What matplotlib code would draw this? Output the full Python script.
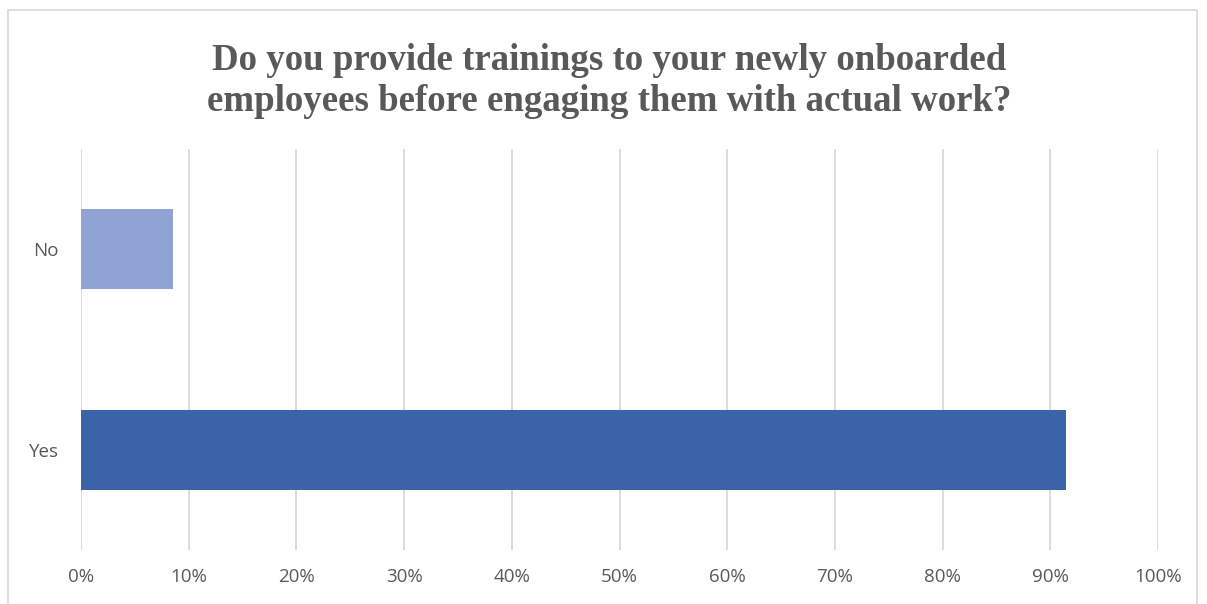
import matplotlib.pyplot as plt
from matplotlib.patches import Rectangle
from matplotlib.ticker import PercentFormatter

# survey answers, share of respondents
answers = ["Yes", "No"]
shares = [91.5, 8.5]
colors = ["#3a63aa", "#8fa4d4"]

fig = plt.figure(figsize=(12.07, 6.04), dpi=100)
ax = fig.add_axes([81 / 1207, 1 - 550 / 604, (1158 - 81) / 1207, (550 - 149) / 604])

ax.barh(answers, shares, height=0.4, color=colors, zorder=3)
ax.set_xlim(0, 100)
ax.set_ylim(-0.5, 1.5)
ax.set_xticks(range(0, 101, 10))
ax.xaxis.set_major_formatter(PercentFormatter(decimals=0))
ax.grid(axis="x", color="#d9d9d9", linewidth=1.3, zorder=0)
for s in ax.spines.values():
    s.set_visible(False)
ax.tick_params(length=0, labelsize=13.5, labelcolor="#595959", pad=13)
ax.tick_params(axis="y", pad=16)
for lab in ax.get_xticklabels() + ax.get_yticklabels():
    lab.set_family(["Open Sans", "DejaVu Sans"])

fig.text(0.505, 1 - 81 / 604,
         "Do you provide trainings to your newly onboarded\nemployees before engaging them with actual work?",
         ha="center", va="center", fontsize=26.6, fontweight="bold",
         family="Liberation Serif", color="#595959", linespacing=1.25)

# chart frame
fig.patches.append(Rectangle((8 / 1207, -0.01), 1189 / 1207, 1 - 10 / 604 + 0.01,
                             transform=fig.transFigure, fill=False,
                             edgecolor="#d9d9d9", linewidth=1.2))

fig.savefig("out.png", dpi=100)
